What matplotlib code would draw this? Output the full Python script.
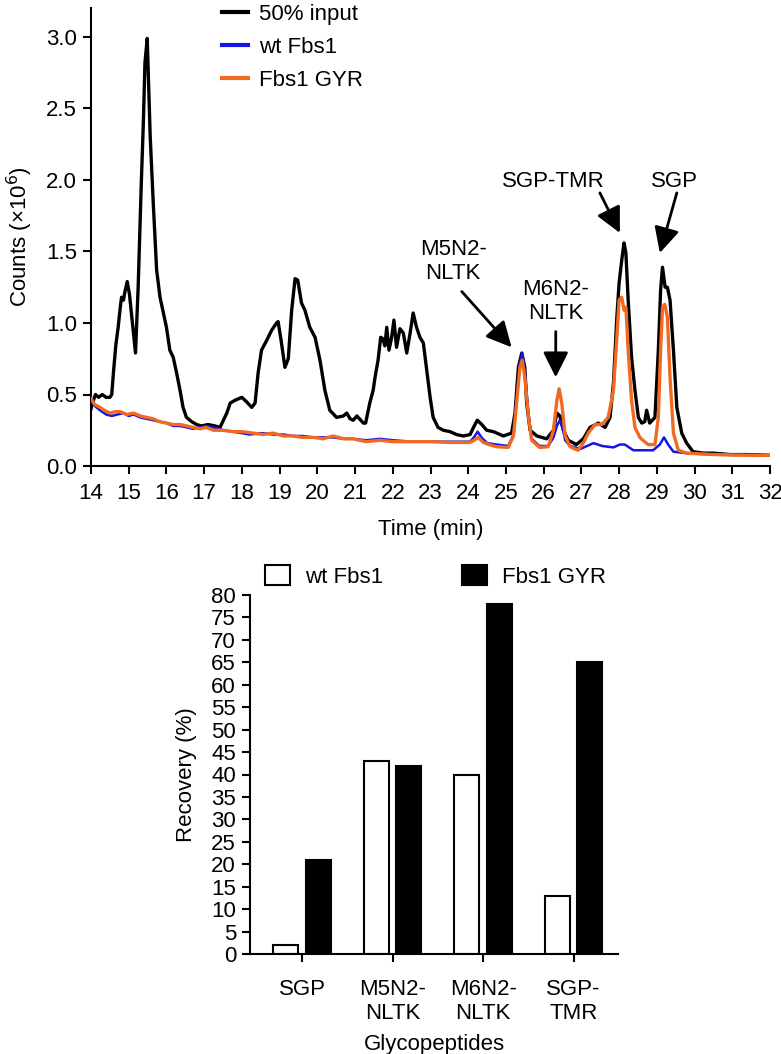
import matplotlib
matplotlib.use("Agg")
import matplotlib.pyplot as plt
from matplotlib.patches import Patch
from matplotlib.lines import Line2D

plt.rcParams['font.family'] = ['Liberation Sans', 'DejaVu Sans']

# ---------------- data: chromatogram ----------------
black_t = [14.00, 14.05, 14.12, 14.20, 14.30, 14.40, 14.50, 14.55, 14.60, 14.66, 14.72, 14.78, 14.81, 14.86,
           14.90, 14.96, 15.02, 15.09, 15.18, 15.25, 15.33, 15.39, 15.43, 15.49, 15.53, 15.57, 15.65, 15.74,
           15.83, 15.92, 16.00, 16.09, 16.18, 16.27, 16.36, 16.44, 16.53, 16.67, 16.80, 16.93, 17.10, 17.29,
           17.42, 17.51, 17.60, 17.69, 17.82, 18.00, 18.12, 18.26, 18.35, 18.43, 18.52, 18.66, 18.79, 18.92,
           18.96, 19.05, 19.14, 19.23, 19.32, 19.41, 19.48, 19.58, 19.67, 19.80, 19.94, 20.07, 20.20, 20.33,
           20.51, 20.69, 20.78, 20.87, 20.95, 21.05, 21.22, 21.28, 21.39, 21.48, 21.53, 21.61, 21.68, 21.74,
           21.79, 21.84, 21.90, 21.97, 22.03, 22.10, 22.19, 22.28, 22.37, 22.46, 22.54, 22.63, 22.72, 22.81,
           22.90, 22.99, 23.07, 23.20, 23.34, 23.52, 23.69, 23.87, 24.05, 24.14, 24.24, 24.36, 24.49, 24.67,
           24.93, 25.15, 25.24, 25.33, 25.42, 25.50, 25.55, 25.64, 25.82, 26.08, 26.26, 26.35, 26.43, 26.52,
           26.65, 26.87, 27.05, 27.23, 27.45, 27.63, 27.76, 27.85, 27.94, 28.00, 28.07, 28.13, 28.18, 28.24,
           28.33, 28.42, 28.51, 28.60, 28.68, 28.73, 28.81, 28.95, 29.04, 29.10, 29.15, 29.22, 29.28, 29.35,
           29.44, 29.53, 29.66, 29.79, 29.96, 30.23, 30.50, 30.94, 31.40, 32.00]
black_v = [0.40, 0.45, 0.50, 0.48, 0.50, 0.48, 0.48, 0.50, 0.67, 0.85, 0.97, 1.12, 1.18, 1.16,
           1.22, 1.29, 1.20, 1.02, 0.79, 1.25, 1.95, 2.42, 2.82, 2.99, 2.65, 2.30, 1.84, 1.37,
           1.18, 1.07, 0.97, 0.81, 0.76, 0.65, 0.53, 0.41, 0.34, 0.31, 0.29, 0.28, 0.29, 0.28,
           0.27, 0.32, 0.37, 0.44, 0.46, 0.48, 0.45, 0.41, 0.44, 0.65, 0.81, 0.88, 0.95, 1.00,
           1.01, 0.86, 0.69, 0.75, 1.09, 1.31, 1.30, 1.14, 1.09, 0.97, 0.90, 0.74, 0.53, 0.39,
           0.34, 0.35, 0.37, 0.33, 0.32, 0.35, 0.30, 0.30, 0.44, 0.53, 0.62, 0.74, 0.90, 0.89,
           0.84, 0.97, 0.81, 0.90, 1.02, 0.83, 0.96, 0.93, 0.79, 0.93, 1.07, 0.97, 0.90, 0.86,
           0.67, 0.48, 0.34, 0.27, 0.25, 0.24, 0.22, 0.21, 0.22, 0.27, 0.32, 0.29, 0.25, 0.24,
           0.21, 0.23, 0.37, 0.69, 0.79, 0.69, 0.44, 0.25, 0.21, 0.19, 0.25, 0.37, 0.35, 0.25,
           0.18, 0.15, 0.19, 0.27, 0.30, 0.27, 0.34, 0.58, 1.04, 1.28, 1.44, 1.56, 1.49, 1.16,
           0.76, 0.53, 0.34, 0.30, 0.31, 0.39, 0.30, 0.34, 0.81, 1.23, 1.39, 1.25, 1.25, 1.16,
           0.81, 0.41, 0.23, 0.16, 0.10, 0.09, 0.09, 0.08, 0.08, 0.075]

blue_t = [14.00, 14.10, 14.24, 14.40, 14.55, 14.70, 14.85, 15.00, 15.13, 15.30, 15.47, 15.65, 15.82, 16.00,
          16.18, 16.36, 16.54, 16.70, 16.89, 17.05, 17.25, 17.50, 17.77, 18.00, 18.20, 18.55, 18.83, 19.10,
          19.36, 19.60, 19.90, 20.15, 20.42, 20.70, 20.95, 21.30, 21.66, 22.00, 22.54, 23.00, 23.43, 23.90,
          24.05, 24.15, 24.25, 24.35, 24.50, 24.75, 25.06, 25.20, 25.29, 25.37, 25.43, 25.50, 25.60, 25.68,
          25.89, 26.12, 26.26, 26.35, 26.43, 26.50, 26.57, 26.70, 26.98, 27.15, 27.32, 27.55, 27.85, 28.02,
          28.15, 28.38, 28.60, 28.90, 29.08, 29.19, 29.30, 29.44, 29.79, 30.14, 30.50, 31.38, 32.00]
blue_v = [0.46, 0.42, 0.39, 0.36, 0.35, 0.36, 0.37, 0.35, 0.36, 0.34, 0.33, 0.32, 0.31, 0.30,
          0.28, 0.28, 0.27, 0.26, 0.27, 0.28, 0.27, 0.25, 0.24, 0.23, 0.22, 0.23, 0.22, 0.22,
          0.21, 0.21, 0.20, 0.20, 0.20, 0.19, 0.19, 0.18, 0.19, 0.18, 0.17, 0.17, 0.17, 0.17,
          0.17, 0.20, 0.24, 0.20, 0.16, 0.15, 0.14, 0.22, 0.48, 0.72, 0.79, 0.66, 0.36, 0.19,
          0.14, 0.14, 0.20, 0.28, 0.32, 0.27, 0.18, 0.14, 0.12, 0.14, 0.16, 0.14, 0.13, 0.15,
          0.15, 0.11, 0.11, 0.11, 0.15, 0.20, 0.15, 0.10, 0.09, 0.085, 0.08, 0.08, 0.075]

orange_t = [14.00, 14.10, 14.24, 14.35, 14.50, 14.65, 14.77, 14.95, 15.13, 15.30, 15.47, 15.65, 15.82, 16.00,
            16.18, 16.36, 16.54, 16.70, 16.89, 17.05, 17.25, 17.50, 17.77, 18.00, 18.30, 18.55, 18.83, 19.10,
            19.36, 19.60, 19.90, 20.15, 20.42, 20.70, 20.95, 21.30, 21.66, 22.00, 22.54, 23.00, 23.43, 24.05,
            24.15, 24.27, 24.40, 24.55, 24.75, 25.06, 25.20, 25.29, 25.37, 25.43, 25.50, 25.60, 25.68, 25.89,
            26.12, 26.26, 26.35, 26.41, 26.48, 26.57, 26.70, 26.91, 27.05, 27.18, 27.36, 27.54, 27.71, 27.85,
            27.94, 28.00, 28.07, 28.13, 28.18, 28.24, 28.33, 28.42, 28.55, 28.63, 28.77, 28.95, 29.04, 29.10,
            29.15, 29.21, 29.28, 29.35, 29.44, 29.57, 29.79, 30.14, 30.50, 31.38, 32.00]
orange_v = [0.47, 0.43, 0.41, 0.39, 0.37, 0.38, 0.38, 0.36, 0.37, 0.35, 0.34, 0.33, 0.31, 0.30,
            0.29, 0.29, 0.28, 0.27, 0.26, 0.27, 0.25, 0.25, 0.24, 0.24, 0.23, 0.22, 0.23, 0.21,
            0.21, 0.20, 0.20, 0.19, 0.21, 0.19, 0.19, 0.17, 0.18, 0.17, 0.17, 0.17, 0.165, 0.165,
            0.18, 0.20, 0.165, 0.15, 0.135, 0.13, 0.21, 0.46, 0.69, 0.74, 0.62, 0.34, 0.18, 0.13,
            0.135, 0.25, 0.46, 0.54, 0.44, 0.21, 0.135, 0.11, 0.16, 0.23, 0.29, 0.29, 0.34, 0.53,
            0.90, 1.16, 1.18, 1.09, 1.11, 0.81, 0.46, 0.27, 0.20, 0.18, 0.15, 0.15, 0.34, 0.81,
            1.11, 1.13, 1.04, 0.62, 0.23, 0.11, 0.09, 0.085, 0.08, 0.075, 0.075]

series_labels = ['50% input', 'wt Fbs1', 'Fbs1 GYR']
peak_labels = ['M5N2-\nNLTK', 'M6N2-\nNLTK', 'SGP-TMR', 'SGP']

# ---------------- data: recovery bars ----------------
categories = ['SGP', 'M5N2-\nNLTK', 'M6N2-\nNLTK', 'SGP-\nTMR']
wt_recovery = [2, 43, 40, 13]
gyr_recovery = [21, 42, 78, 65]
bar_labels = ['wt Fbs1', 'Fbs1 GYR']

BLUE = '#1414e6'
ORANGE = '#f26a21'
FS = 16

W, H = 781, 1054
fig = plt.figure(figsize=(W / 100, H / 100), dpi=100)

def frac(x0, y0, x1, y1):
    return [x0 / W, 1 - y1 / H, (x1 - x0) / W, (y1 - y0) / H]

# ---------------- top: chromatogram ----------------
ax1 = fig.add_axes(frac(91, 8.4, 770, 466))
ax1.plot(black_t, black_v, color='black', lw=2.4, zorder=3)
ax1.plot(blue_t, blue_v, color=BLUE, lw=1.8, zorder=4)
ax1.plot(orange_t, orange_v, color=ORANGE, lw=2.4, zorder=5)
ax1.set_xlim(14, 32)
ax1.set_ylim(0, 3.2)
ax1.set_xticks(range(14, 33))
ax1.set_yticks([0.0, 0.5, 1.0, 1.5, 2.0, 2.5, 3.0])
ax1.set_yticklabels(['0.0', '0.5', '1.0', '1.5', '2.0', '2.5', '3.0'])
for s in ['top', 'right']:
    ax1.spines[s].set_visible(False)
for s in ['left', 'bottom']:
    ax1.spines[s].set_linewidth(1.5)
ax1.tick_params(direction='out', length=6, width=1.5, labelsize=FS, pad=4)
ax1.tick_params(axis='x', pad=6)
ax1.set_xlabel('Time (min)', fontsize=FS, labelpad=11)
ax1.set_ylabel('Counts (×10$^6$)', fontsize=FS, labelpad=8)

handles = [Line2D([], [], color='black', lw=3),
           Line2D([], [], color=BLUE, lw=3),
           Line2D([], [], color=ORANGE, lw=3)]
fig.legend(handles, series_labels, loc='upper left', bbox_to_anchor=(222 / W, 1 - 4 / H),
           frameon=False, fontsize=FS, handlelength=1.15, handletextpad=0.5,
           labelspacing=0.53, borderpad=0, borderaxespad=0)

arrow_kw = dict(arrowstyle='-|>,head_length=0.7,head_width=0.35', color='black', lw=2,
                mutation_scale=22, shrinkA=0, shrinkB=0)
ax1.text(23.6, 1.43, peak_labels[0], ha='center', va='center', fontsize=FS, linespacing=1.15)
ax1.annotate('', xy=(25.15, 0.83), xytext=(23.83, 1.22), arrowprops=arrow_kw)
ax1.text(26.32, 1.15, peak_labels[1], ha='center', va='center', fontsize=FS, linespacing=1.15)
ax1.annotate('', xy=(26.32, 0.62), xytext=(26.32, 0.94), arrowprops=arrow_kw)
ax1.text(26.26, 1.99, peak_labels[2], ha='center', va='center', fontsize=FS)
ax1.annotate('', xy=(28.02, 1.63), xytext=(27.49, 1.91), arrowprops=arrow_kw)
ax1.text(29.48, 1.99, peak_labels[3], ha='center', va='center', fontsize=FS)
ax1.annotate('', xy=(29.08, 1.49), xytext=(29.53, 1.91), arrowprops=arrow_kw)

# ---------------- bottom: bar chart ----------------
ax2 = fig.add_axes(frac(250, 595, 618, 954))
x = list(range(len(categories)))
bw = 0.275
off = 0.18
ax2.bar([i - off for i in x], wt_recovery, width=bw, facecolor='white', edgecolor='black', lw=1.5)
ax2.bar([i + off for i in x], gyr_recovery, width=bw, facecolor='black', edgecolor='black', lw=1.5)
ax2.set_xlim(-0.575, 3.49)
ax2.set_ylim(0, 80)
ax2.set_yticks(range(0, 81, 5))
ax2.set_xticks(x)
ax2.set_xticklabels(categories, linespacing=1.2)
for s in ['top', 'right']:
    ax2.spines[s].set_visible(False)
for s in ['left', 'bottom']:
    ax2.spines[s].set_linewidth(1.5)
ax2.tick_params(direction='out', length=6, width=1.5, labelsize=FS, pad=4)
ax2.tick_params(axis='x', pad=12)
ax2.set_xlabel('Glycopeptides', fontsize=FS, labelpad=7)
ax2.set_ylabel('Recovery (%)', fontsize=FS, labelpad=10)

bhandles = [Patch(facecolor='white', edgecolor='black', lw=1.5),
            Patch(facecolor='black', edgecolor='black', lw=1.5)]
fig.legend(bhandles, bar_labels, loc='upper left', bbox_to_anchor=(265 / W, 1 - 565 / H),
           frameon=False, fontsize=FS, ncol=2, handlelength=1.13, handleheight=1.0,
           handletextpad=0.68, columnspacing=3.55, borderpad=0, borderaxespad=0)

fig.savefig('out.png', dpi=100)
